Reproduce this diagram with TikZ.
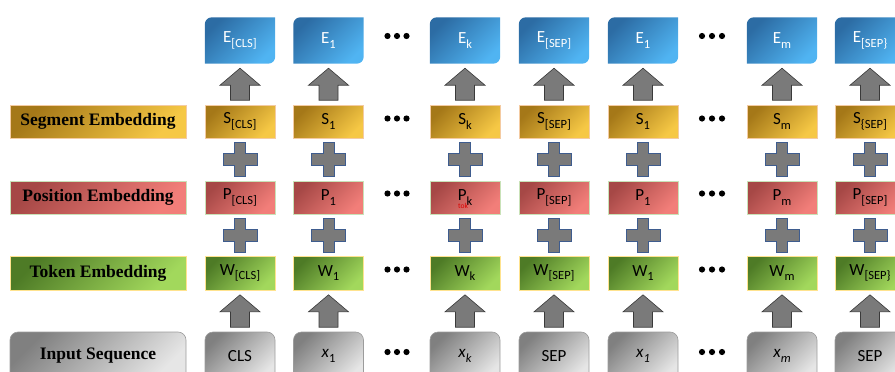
\documentclass[tikz,border=0pt]{standalone}
\usepackage{fontspec}
\setmainfont{Carlito}
\newfontfamily\rowlabelfont{Liberation Serif}
\usetikzlibrary{backgrounds,calc}

% palette
\definecolor{embdark}{HTML}{2C6CA4}
\definecolor{emblight}{HTML}{50B4F2}
\definecolor{segdark}{HTML}{A57818}
\definecolor{seglight}{HTML}{F6C845}
\definecolor{segline}{HTML}{F4CBA2}
\definecolor{posdark}{HTML}{A64846}
\definecolor{poslight}{HTML}{F27E79}
\definecolor{posline}{HTML}{C9E2B8}
\definecolor{tokdark}{HTML}{4E7B26}
\definecolor{toklight}{HTML}{A2D85C}
\definecolor{tokline}{HTML}{FFE38F}
\definecolor{indark}{HTML}{808080}
\definecolor{inlight}{HTML}{E6E6E6}
\definecolor{inline}{HTML}{9C9C9C}
\definecolor{blockfill}{HTML}{7A7A7A}
\definecolor{blockline}{HTML}{3A3A3A}
\definecolor{plusline}{HTML}{3E5C8E}

% lowered, smaller index text
\newcommand\lowtxt[1]{\raisebox{-0.28em}{\fontsize{12.5}{13}\selectfont #1}}

\tikzset{
  cell/.style={minimum width=70pt, inner sep=0pt, font=\fontsize{17}{18}\selectfont, text=black},
  rowlabel/.style={minimum width=176pt, inner sep=0pt,
    font=\rowlabelfont\bfseries\fontsize{17.5}{19}\selectfont, text=black},
  embbox/.style={cell, minimum height=46pt, text=white},
  embshade/.style={top color=embdark, bottom color=emblight, shading angle=45},
  segbox/.style={minimum height=33pt, draw=segline, line width=0.6pt,
    top color=segdark, bottom color=seglight, shading angle=45},
  posbox/.style={minimum height=33pt, draw=posline, line width=0.6pt,
    top color=posdark, bottom color=poslight, shading angle=45},
  tokbox/.style={minimum height=34pt, draw=tokline, line width=0.6pt,
    top color=tokdark, bottom color=toklight, shading angle=45},
  inbox/.style={minimum height=48pt, rounded corners=8pt, draw=inline, line width=0.6pt,
    top color=indark, bottom color=inlight, shading angle=45},
  arrowblk/.style={fill=blockfill, draw=blockline, line width=0.6pt, line join=miter},
  plusblk/.style={fill=blockfill, draw=plusline, line width=0.6pt},
}

% upward block arrow from the lower node #1 to the upper node #2
\newcommand\blockarrow[2]{%
  \path[arrowblk] let \p1=(#1.north), \p2=(#2.south) in
    (\x1-9.5pt,\y1+4.5pt) -- (\x1+9.5pt,\y1+4.5pt) -- (\x1+9.5pt,\y2-21.5pt)
    -- (\x1+20pt,\y2-21.5pt) -- (\x1,\y2-4.5pt) -- (\x1-20pt,\y2-21.5pt)
    -- (\x1-9.5pt,\y2-21.5pt) -- cycle;}

% plus sign centred between the upper node #1 and the lower node #2
\newcommand\plusblock[2]{%
  \path[plusblk] let \p1=($(#1.south)!0.5!(#2.north)$) in
    (\x1-5.5pt,\y1+17pt) -- (\x1+5.5pt,\y1+17pt) -- (\x1+5.5pt,\y1+6pt)
    -- (\x1+17pt,\y1+6pt) -- (\x1+17pt,\y1-6pt) -- (\x1+5.5pt,\y1-6pt)
    -- (\x1+5.5pt,\y1-17pt) -- (\x1-5.5pt,\y1-17pt) -- (\x1-5.5pt,\y1-6pt)
    -- (\x1-17pt,\y1-6pt) -- (\x1-17pt,\y1+6pt) -- (\x1-5.5pt,\y1+6pt) -- cycle;}

% output box with rounded top-left and bottom-right corners
\newcommand\embshape[1]{%
  \shade[embshade] let \p1=(#1.north west), \p2=(#1.south east) in
    (\x1,\y1-7pt) arc[start angle=180, end angle=90, radius=7pt] -- (\x2,\y1)
    -- (\x2,\y2+7pt) arc[start angle=0, end angle=-90, radius=7pt] -- (\x1,\y2) -- cycle;}

\begin{document}
\begin{tikzpicture}[x=1pt, y=-1pt]
\useasboundingbox (0,0) rectangle (895,372);
\clip (0,0) rectangle (895,372);

% row labels
\node[rowlabel, segbox] (lseg) at (98,121.5) {Segment Embedding};
\node[rowlabel, posbox] (lpos) at (98,197.5) {Position Embedding};
\node[rowlabel, tokbox] (ltok) at (98,273) {Token Embedding};
\node[rowlabel, inbox]  (lin)  at (98,356) {Input Sequence};

% token columns
\foreach \cn/\cx/\te/\ts/\tp/\tw/\ti in {
  a/240/{E\lowtxt{[CLS]}}/{S\lowtxt{[CLS]}}/{P\lowtxt{[CLS]}}/{W\lowtxt{[CLS]}}/{CLS},
  b/328.5/{E\lowtxt{1}}/{S\lowtxt{1}}/{P\lowtxt{1}}/{W\lowtxt{1}}/{\textit{x}\lowtxt{1}},
  c/465/{E\lowtxt{k}}/{S\lowtxt{k}}/{P\lowtxt{k}}/{W\lowtxt{k}}/{\textit{x}\lowtxt{\textit{k}}},
  d/554/{E\lowtxt{[SEP]}}/{S\lowtxt{[SEP]}}/{P\lowtxt{[SEP]}}/{W\lowtxt{[SEP]}}/{SEP},
  e/643/{E\lowtxt{1}}/{S\lowtxt{1}}/{P\lowtxt{1}}/{W\lowtxt{1}}/{\textit{x}\lowtxt{\textit{1}}},
  f/782/{E\lowtxt{m}}/{S\lowtxt{m}}/{P\lowtxt{m}}/{W\lowtxt{m}}/{\textit{x}\lowtxt{\textit{m}}},
  g/870/{E\lowtxt{[SEP\}}}/{S\lowtxt{\{SEP]}}/{P\lowtxt{[SEP]}}/{W\lowtxt{[SEP\}}}/{SEP}%
}{
  \node[embbox] (e\cn) at (\cx,40.5) {\te};
  \begin{pgfonlayer}{background}\embshape{e\cn}\end{pgfonlayer}
  \node[cell, segbox] (s\cn) at (\cx,121.5) {\ts};
  \node[cell, posbox] (p\cn) at (\cx,197.5) {\tp};
  \node[cell, tokbox] (w\cn) at (\cx,273) {\tw};
  \node[cell, inbox]  (i\cn) at (\cx,356) {\ti};
  \blockarrow{i\cn}{w\cn}
  \plusblock{p\cn}{w\cn}
  \plusblock{s\cn}{p\cn}
  \blockarrow{s\cn}{e\cn}
}

% stray red mark under P_k
\node[text=red!85!black, font=\fontsize{7.5}{8}\selectfont, inner sep=0pt] (stray) at (463,206) {tok};

% ellipses between columns
\foreach \dy in {36,118.5,193.5,269.5,352}
  \foreach \dx in {387.5,397,406.5,702,712,722}
    \fill (\dx,\dy) circle[radius=3.1pt];

\end{tikzpicture}
\end{document}
